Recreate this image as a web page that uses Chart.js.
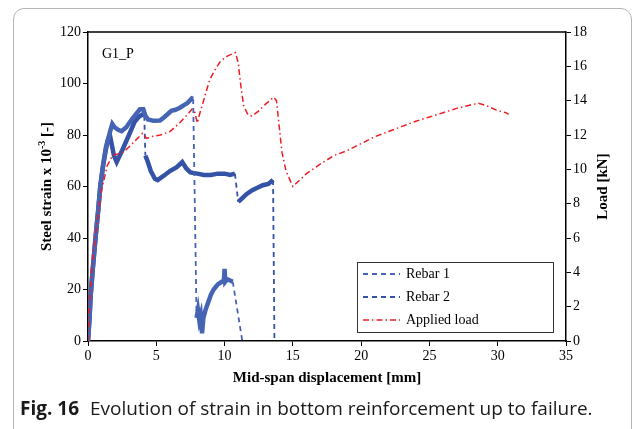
<!DOCTYPE html>
<html>
<head>
<meta charset="utf-8">
<script src="https://cdn.jsdelivr.net/npm/chart.js@4.4.1/dist/chart.umd.min.js"></script>
<style>
  body { margin: 0; background: #fff; }
  #wrap { position: relative; width: 634px; height: 429px; overflow: hidden; }
  #frame { position: absolute; left: 13px; top: 8px; width: 617px; height: 480px;
           border: 1px solid #b4b4b4; border-radius: 11px; }
  #chartBox { position: absolute; left: 0; top: 0; width: 634px; height: 429px; }
  #caption { position: absolute; left: 20px; top: 395px; font-family: "Open Sans", sans-serif;
             font-size: 19px; line-height: 26px; color: #1a1a1a; white-space: nowrap; }
  #caption b { font-weight: 700; margin-right: 6px; }
</style>
</head>
<body>
<div id="wrap">
  <div id="frame"></div>
  <div id="chartBox"><canvas id="strainChart"></canvas></div>
  <div id="caption"><b>Fig. 16</b> Evolution of strain in bottom reinforcement up to failure.</div>
</div>
<script>
// axis ranges / ticks
const xRange = [0, 35];
const strainRange = [0, 120];
const loadRange = [0, 18];

// Rebar 1 (steel strain x 10^-3)
const rebar1X = [0, 0.1, 0.2, 0.35, 0.55, 0.75, 0.9, 1.1, 1.3, 1.5, 1.65, 1.78, 1.95, 2.2, 2.46, 2.8, 3.2, 3.5, 3.8, 4.05, 4.2, 4.4, 4.8, 5.27, 5.6, 6.1, 6.4, 6.7, 7.0, 7.3, 7.6, 7.7,
                 7.95, 8.05, 8.15, 8.25, 8.35, 8.45, 8.6, 8.8, 9.0, 9.2, 9.5, 9.8, 9.95, 10.0, 10.05, 10.2, 10.4, 10.6, 11.3];
const rebar1Y = [0, 8, 18, 28, 40, 51, 60, 68, 75, 79, 82, 84.3, 83, 82, 81.5, 83, 86, 88, 90, 90, 87.5, 86, 85.5, 85.6, 87, 89.4, 89.8, 90.5, 91.5, 92.5, 94.2, 94,
                 9, 12, 8, 10, 3, 9, 12, 15, 18, 20, 22, 23, 23.5, 28, 23, 24, 23.5, 23, 0];

// Rebar 2
const rebar2X = [0, 0.1, 0.2, 0.35, 0.55, 0.75, 0.9, 1.1, 1.3, 1.45, 1.6, 1.75, 1.9, 2.1, 2.5, 3.0, 3.4, 3.7, 4.0, 4.12,
                 4.2, 4.35, 4.6, 4.9, 5.1, 5.5, 6.0, 6.5, 6.9, 7.2, 7.5, 8.0, 8.5, 9.0, 9.5, 10.0, 10.4, 10.76,
                 11.0, 11.3, 11.6, 12.0, 12.4, 12.8, 13.2, 13.55, 13.65];
const rebar2Y = [0, 8, 18, 28, 40, 51, 60, 68, 74, 78, 80, 76, 72, 69.5, 74, 80, 85, 87, 88, 87.5,
                 72, 70, 66, 63, 62.5, 64, 66, 67.5, 69.5, 67, 65.5, 65, 64.5, 64.5, 65, 65, 64.5, 65,
                 54, 55.5, 57, 58.5, 59.5, 60.5, 61, 62.5, 0];

// Applied load [kN]
const loadX = [0, 0.1, 0.3, 0.6, 1.0, 1.4, 1.8, 2.2, 2.6, 3.0, 3.5, 4.0, 4.3, 4.6, 5.3, 6.0, 6.7, 7.3, 7.6, 7.8, 8.0, 8.2,
               8.5, 8.9, 9.3, 9.7, 10.2, 10.8, 11.0, 11.2, 11.4, 11.7, 12.0, 12.5, 13.0, 13.6, 13.8, 14.0, 14.2, 14.5, 15.0,
               16.0, 17.0, 18.0, 19.0, 20.0, 21.0, 22.0, 23.0, 24.0, 25.0, 26.0, 27.0, 28.0, 28.6, 29.2, 29.9, 30.6, 30.8];
const loadY = [0, 2.0, 4.5, 6.5, 8.8, 10.2, 10.8, 10.9, 11.0, 11.3, 11.7, 12.1, 11.8, 11.9, 12.0, 12.2, 12.7, 13.2, 13.5, 13.4, 12.7, 13.3,
               14.1, 15.2, 15.8, 16.3, 16.6, 16.8, 16.2, 14.8, 13.7, 13.2, 13.1, 13.4, 13.8, 14.2, 14.0, 12.5, 11.0, 9.9, 9.0,
               9.75, 10.3, 10.8, 11.1, 11.5, 11.9, 12.2, 12.5, 12.8, 13.05, 13.3, 13.55, 13.75, 13.85, 13.7, 13.45, 13.3, 13.2];

const seriesNames = ['Rebar 1', 'Rebar 2', 'Applied load'];
const seriesColors = ['#4664b4', '#3553a6', '#ee1c25'];

const pts = (xs, ys) => xs.map((x, i) => ({ x: x, y: ys[i] }));
const serif = '"Liberation Serif", "Times New Roman", serif';

// long downward jumps are drawn thin & dashed, dense parts thick
const isDrop = c => (c.p1.y - c.p0.y) > 25;
const rebarSegment = {
    borderDash: c => isDrop(c) ? [5, 4] : undefined,
    borderWidth: c => isDrop(c) ? 1.8 : undefined
};

const decorations = {
    id: 'decorations',
    afterDraw(chart) {
        const ctx = chart.ctx;
        const a = chart.chartArea;
        ctx.save();
        // top frame line
        ctx.strokeStyle = '#000';
        ctx.lineWidth = 1.5;
        ctx.beginPath();
        ctx.moveTo(a.left, a.top);
        ctx.lineTo(a.right, a.top);
        ctx.stroke();

        ctx.fillStyle = '#000';
        ctx.font = '14px ' + serif;
        ctx.textBaseline = 'alphabetic';
        ctx.textAlign = 'left';
        ctx.fillText('G1_P', a.left + 14, a.top + 26);

        // x title
        ctx.font = 'bold 15px ' + serif;
        ctx.textAlign = 'center';
        ctx.textBaseline = 'middle';
        ctx.fillText('Mid-span displacement [mm]', (a.left + a.right) / 2, 378);

        // left title with superscript
        const midY = (a.top + a.bottom) / 2;
        ctx.save();
        ctx.translate(47, midY);
        ctx.rotate(-Math.PI / 2);
        const p1 = 'Steel strain x 10', sup = '-3', p2 = ' [-]';
        ctx.font = 'bold 15px ' + serif;
        const w1 = ctx.measureText(p1).width, w3 = ctx.measureText(p2).width;
        ctx.font = 'bold 10px ' + serif;
        const w2 = ctx.measureText(sup).width;
        let x0 = -(w1 + w2 + w3) / 2;
        ctx.textAlign = 'left';
        ctx.font = 'bold 15px ' + serif;
        ctx.fillText(p1, x0, 0);
        ctx.font = 'bold 10px ' + serif;
        ctx.fillText(sup, x0 + w1, -5);
        ctx.font = 'bold 15px ' + serif;
        ctx.fillText(p2, x0 + w1 + w2, 0);
        ctx.restore();

        // right title
        ctx.save();
        ctx.translate(603, midY);
        ctx.rotate(-Math.PI / 2);
        ctx.font = 'bold 15px ' + serif;
        ctx.textAlign = 'center';
        ctx.fillText('Load [kN]', 0, 0);
        ctx.restore();

        // legend box
        const lx = 357, ly = 262, lw = 196, lh = 70;
        ctx.fillStyle = '#fff';
        ctx.fillRect(lx, ly, lw, lh);
        ctx.strokeStyle = '#333';
        ctx.lineWidth = 1;
        ctx.strokeRect(lx + 0.5, ly + 0.5, lw, lh);
        const dashes = [[5, 4], [5, 4], [6, 3, 1.5, 3]];
        seriesNames.forEach((name, i) => {
            const yy = ly + 12 + i * 23;
            ctx.strokeStyle = seriesColors[i];
            ctx.lineWidth = i === 2 ? 1.5 : 1.8;
            ctx.setLineDash(dashes[i]);
            ctx.beginPath();
            ctx.moveTo(lx + 6, yy);
            ctx.lineTo(lx + 43, yy);
            ctx.stroke();
            ctx.setLineDash([]);
            ctx.fillStyle = '#000';
            ctx.font = '14px ' + serif;
            ctx.textAlign = 'left';
            ctx.textBaseline = 'middle';
            ctx.fillText(name, lx + 49, yy);
        });
        ctx.restore();
    }
};

const axisCommon = {
    grid: { display: true, drawOnChartArea: false, drawTicks: true, tickLength: 5, color: '#000', lineWidth: 1 },
    border: { display: true, color: '#000', width: 1.5 },
    ticks: { color: '#000', font: { family: serif, size: 14 }, padding: 2 }
};

new Chart(document.getElementById('strainChart').getContext('2d'), {
    type: 'scatter',
    data: {
        datasets: [
            { label: seriesNames[0], data: pts(rebar1X, rebar1Y), yAxisID: 'y', showLine: true,
              borderColor: seriesColors[0], borderWidth: 4.5, pointRadius: 0, segment: rebarSegment, order: 2 },
            { label: seriesNames[1], data: pts(rebar2X, rebar2Y), yAxisID: 'y', showLine: true,
              borderColor: seriesColors[1], borderWidth: 4.5, pointRadius: 0, segment: rebarSegment, order: 3 },
            { label: seriesNames[2], data: pts(loadX, loadY), yAxisID: 'y1', showLine: true,
              borderColor: seriesColors[2], borderWidth: 1.5, borderDash: [6, 3, 1.5, 3], pointRadius: 0, order: 1 }
        ]
    },
    options: {
        responsive: true,
        maintainAspectRatio: false,
        animation: false,
        layout: { padding: { top: 32 } },
        plugins: { legend: { display: false }, tooltip: { enabled: false } },
        scales: {
            x: Object.assign({}, axisCommon, {
                type: 'linear', min: xRange[0], max: xRange[1],
                ticks: Object.assign({}, axisCommon.ticks, { stepSize: 5 }),
                afterFit: s => { s.height = 88; }
            }),
            y: Object.assign({}, axisCommon, {
                position: 'left', min: strainRange[0], max: strainRange[1],
                ticks: Object.assign({}, axisCommon.ticks, { stepSize: 20 }),
                afterFit: s => { s.width = 88; }
            }),
            y1: Object.assign({}, axisCommon, {
                position: 'right', min: loadRange[0], max: loadRange[1],
                ticks: Object.assign({}, axisCommon.ticks, { stepSize: 2 }),
                afterFit: s => { s.width = 68; }
            })
        }
    },
    plugins: [decorations]
});
</script>
</body>
</html>
